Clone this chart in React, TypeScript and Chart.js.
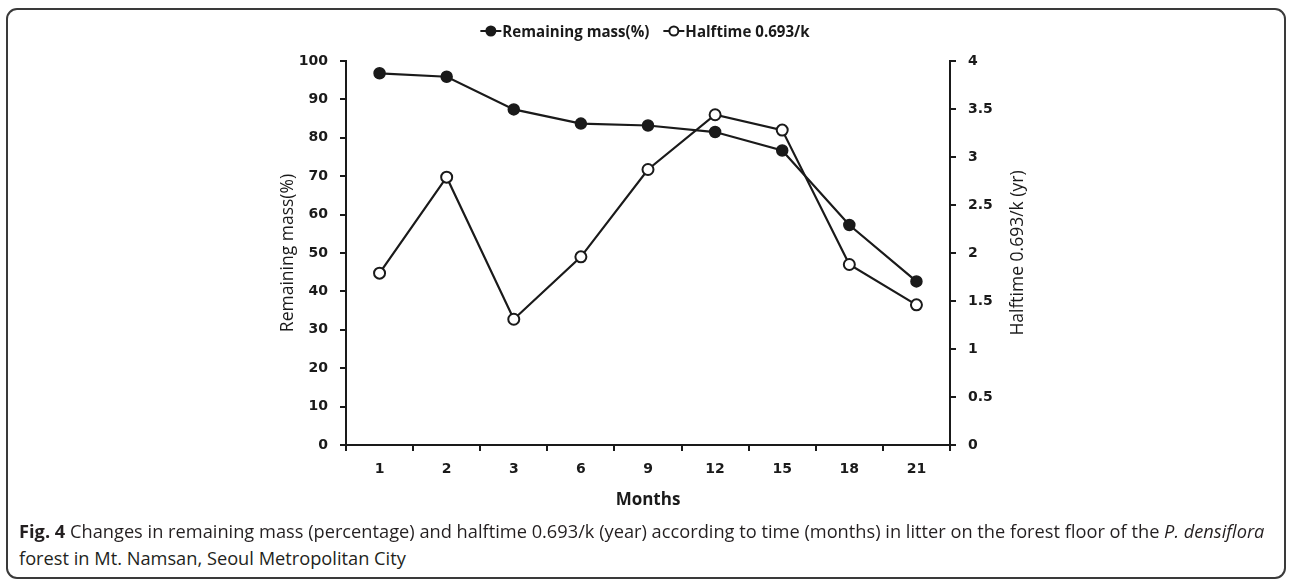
import React, { useEffect, useLayoutEffect, useRef, useState } from 'react';
import { Chart, registerables } from 'chart.js';

Chart.register(...registerables);

const months: string[] = ['1', '2', '3', '6', '9', '12', '15', '18', '21'];
const remainingMass: number[] = [96.8, 95.9, 87.4, 83.7, 83.2, 81.5, 76.7, 57.3, 42.6];
const halftime: number[] = [1.79, 2.79, 1.31, 1.96, 2.87, 3.44, 3.28, 1.88, 1.46];
const seriesNames: string[] = ['Remaining mass(%)', 'Halftime 0.693/k'];
const axisTitles = { left: 'Remaining mass(%)', right: 'Halftime 0.693/k (yr)', x: 'Months' };

const INK = '#1a1a1a';
const tickFont = { family: '"DejaVu Sans", Verdana, sans-serif', weight: 'bold' as const, size: 14 };

const overlayPlugin = {
  id: 'lineMarkerLegend',
  afterDraw(chart: any) {
    const ctx = chart.ctx as CanvasRenderingContext2D;
    // legend
    const y = 31;
    ctx.save();
    ctx.font = 'bold 16.5px "Open Sans", sans-serif';
    ctx.textBaseline = 'middle';
    const sx = 147 / ctx.measureText(seriesNames[0]).width;
    const widths = seriesNames.map((n) => ctx.measureText(n).width * sx);
    const lineLen = 21;
    const gapText = 1;
    const gapItem = 14;
    const total = widths.reduce((a, w) => a + lineLen + gapText + w, 0) + gapItem;
    let x = 645 - total / 2;
    seriesNames.forEach((name, i) => {
      ctx.strokeStyle = INK;
      ctx.lineWidth = 2;
      ctx.beginPath();
      ctx.moveTo(x, y);
      ctx.lineTo(x + lineLen, y);
      ctx.stroke();
      ctx.beginPath();
      ctx.arc(x + lineLen / 2, y, 4.5, 0, Math.PI * 2);
      ctx.fillStyle = i === 0 ? INK : '#fff';
      ctx.fill();
      ctx.stroke();
      x += lineLen + gapText;
      ctx.save();
      ctx.translate(x, y);
      ctx.scale(sx, 1);
      ctx.fillStyle = INK;
      ctx.textAlign = 'left';
      ctx.fillText(name, 0, 1);
      ctx.restore();
      x += widths[i] + gapItem;
    });
    ctx.restore();
    // right axis title, reading bottom to top
    const area = chart.chartArea;
    ctx.save();
    ctx.font = '17.5px "Open Sans", sans-serif';
    ctx.fillStyle = INK;
    ctx.textAlign = 'center';
    ctx.textBaseline = 'middle';
    ctx.translate(1018, (area.top + area.bottom) / 2);
    ctx.rotate(-Math.PI / 2);
    ctx.fillText(axisTitles.right, 0, 0);
    ctx.restore();
  },
};

function ChartCanvas() {
  const ref = useRef<HTMLCanvasElement | null>(null);
  useEffect(() => {
    if (!ref.current) return;
    const chart = new Chart(ref.current, {
      type: 'line',
      data: {
        labels: months,
        datasets: [
          {
            label: seriesNames[0],
            data: remainingMass,
            yAxisID: 'y',
            borderColor: INK,
            borderWidth: 2.2,
            pointRadius: 5.5,
            pointBorderWidth: 1.5,
            pointBackgroundColor: INK,
            pointBorderColor: INK,
            tension: 0,
            clip: false as any,
          },
          {
            label: seriesNames[1],
            data: halftime,
            yAxisID: 'y2',
            borderColor: INK,
            borderWidth: 2.2,
            pointRadius: 5.5,
            pointBorderWidth: 2,
            pointBackgroundColor: '#fff',
            pointBorderColor: INK,
            tension: 0,
            clip: false as any,
          },
        ],
      },
      options: {
        responsive: false,
        animation: false,
        devicePixelRatio: 1,
        layout: { padding: { left: 277.5, right: 262.4, top: 61, bottom: 9.8 } },
        plugins: { legend: { display: false }, tooltip: { enabled: false } },
        scales: {
          x: {
            offset: true,
            grid: { offset: true, drawOnChartArea: false, drawTicks: true, tickLength: 6, color: INK, lineWidth: 2 },
            border: { display: true, color: INK, width: 2 },
            ticks: { font: tickFont, color: INK, padding: 10, maxRotation: 0, autoSkip: false },
            title: {
              display: true,
              text: axisTitles.x,
              color: INK,
              font: { family: '"Open Sans", sans-serif', weight: 'bold', size: 17 },
              padding: 0,
            },
            afterFit: (s: any) => {
              s.height = 65.2;
            },
          },
          y: {
            position: 'left',
            min: 0,
            max: 100,
            ticks: { stepSize: 10, font: tickFont, color: INK, padding: 12 },
            grid: { drawOnChartArea: false, drawTicks: true, tickLength: 6, color: INK, lineWidth: 2 },
            border: { display: true, color: INK, width: 2 },
            title: {
              display: true,
              text: axisTitles.left,
              color: INK,
              font: { family: '"Open Sans", sans-serif', size: 17.5 },
              padding: 0,
            },
            afterFit: (s: any) => {
              s.width = 346 - 277.5;
            },
          },
          y2: {
            position: 'right',
            min: 0,
            max: 4,
            ticks: {
              stepSize: 0.5,
              font: tickFont,
              color: INK,
              padding: 12,
              callback: (v: any) => String(Number(v)),
            },
            grid: { drawOnChartArea: false, drawTicks: true, tickLength: 6, color: INK, lineWidth: 2 },
            border: { display: true, color: INK, width: 2 },
            title: { display: false },
            afterFit: (s: any) => {
              s.width = 77.6;
            },
          },
        },
      },
      plugins: [overlayPlugin],
    });
    return () => chart.destroy();
  }, []);
  return (
    <canvas
      ref={ref}
      width={1290}
      height={520}
      style={{ position: 'absolute', left: 0, top: 0, width: 1290, height: 520 }}
    />
  );
}

function Caption() {
  const line1 = useRef<HTMLSpanElement | null>(null);
  const [scale, setScale] = useState(1);
  useLayoutEffect(() => {
    if (line1.current) {
      const w = line1.current.offsetWidth;
      if (w > 0) setScale(1245 / w);
    }
  }, []);
  const lineStyle: React.CSSProperties = {
    position: 'absolute',
    left: 19,
    whiteSpace: 'nowrap',
    transform: `scaleX(${scale})`,
    transformOrigin: 'left center',
    fontFamily: '"Open Sans", sans-serif',
    fontSize: 18.5,
    lineHeight: '22px',
    color: '#231f20',
  };
  return (
    <>
      <span ref={line1} style={{ ...lineStyle, top: 520 }}>
        <b>Fig. 4</b> Changes in remaining mass (percentage) and halftime 0.693/k (year) according to time (months) in
        litter on the forest floor of the <i>P. densiflora</i>
      </span>
      <span style={{ ...lineStyle, top: 547 }}>forest in Mt. Namsan, Seoul Metropolitan City</span>
    </>
  );
}

export default function App() {
  return (
    <div style={{ position: 'absolute', left: 0, top: 0, width: 1290, height: 582, background: '#fff', overflow: 'hidden' }}>
      <div
        style={{
          position: 'absolute',
          left: 6,
          top: 8,
          width: 1280,
          height: 571,
          border: '2px solid #3a3a3a',
          borderRadius: 11,
          boxSizing: 'border-box',
        }}
      />
      <ChartCanvas />
      <Caption />
    </div>
  );
}
